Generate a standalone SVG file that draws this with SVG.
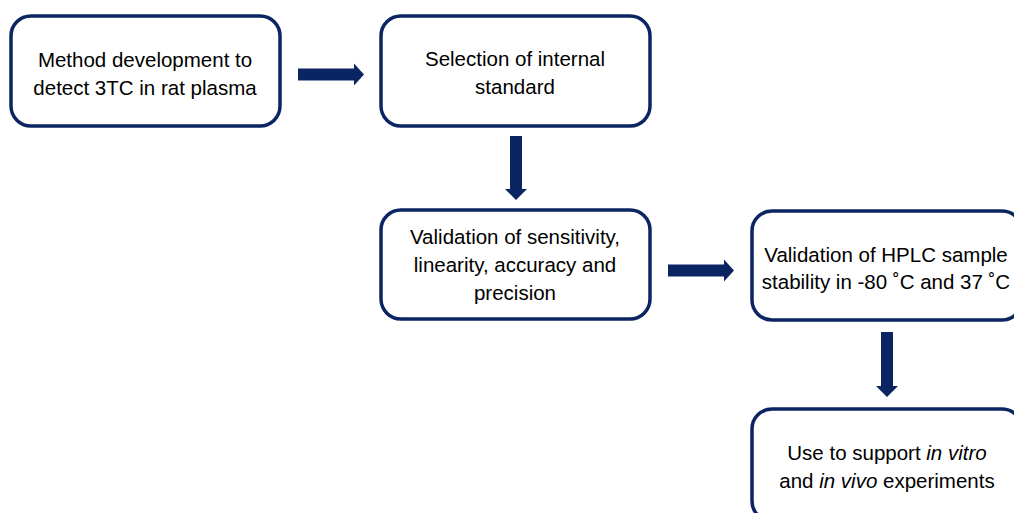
<svg xmlns="http://www.w3.org/2000/svg" width="1014" height="513" viewBox="0 0 1014 513">
<style>
.box{fill:#fff;stroke:#0b2462;stroke-width:3.5}
.arr{fill:#0b2462}
text{font-family:"Liberation Sans",Arial,sans-serif;font-size:20.5px;fill:#000;text-anchor:middle}
.i{font-style:italic}
</style>
<rect width="1014" height="513" fill="#fff"/>
<g id="n1"><rect class="box" x="11" y="16" width="269" height="110" rx="20"/>
<text x="145" y="67">Method development to</text>
<text x="145" y="95">detect 3TC in rat plasma</text></g>
<g id="n2"><rect class="box" x="381" y="16" width="269" height="110" rx="20"/>
<text x="515" y="66">Selection of internal</text>
<text x="515" y="94">standard</text></g>
<g id="n3"><rect class="box" x="381" y="210" width="269" height="109" rx="20"/>
<text x="515" y="244">Validation of sensitivity,</text>
<text x="515" y="272">linearity, accuracy and</text>
<text x="515" y="300">precision</text></g>
<g id="n4"><rect class="box" x="752" y="211" width="270" height="109" rx="20"/>
<text x="886" y="262">Validation of HPLC sample</text>
<text x="886" y="289">stability in -80 ˚C and 37 ˚C</text></g>
<g id="n5"><rect class="box" x="752" y="409" width="270" height="112" rx="20"/>
<text x="887" y="460">Use to support <tspan class="i">in vitro</tspan></text>
<text x="887" y="488">and <tspan class="i">in vivo</tspan> experiments</text></g>
<g id="connectors">
<polygon class="arr" points="298,68.5 354,68.5 354,63.5 364,74.5 354,85.5 354,80.5 298,80.5"/>
<polygon class="arr" points="510,136 522,136 522,189 527,189 516,200 505,189 510,189"/>
<polygon class="arr" points="668,264.5 724,264.5 724,259.5 734,270.5 724,281.5 724,276.5 668,276.5"/>
<polygon class="arr" points="881,332 893,332 893,386 898,386 887,397 876,386 881,386"/>
</g>
</svg>
